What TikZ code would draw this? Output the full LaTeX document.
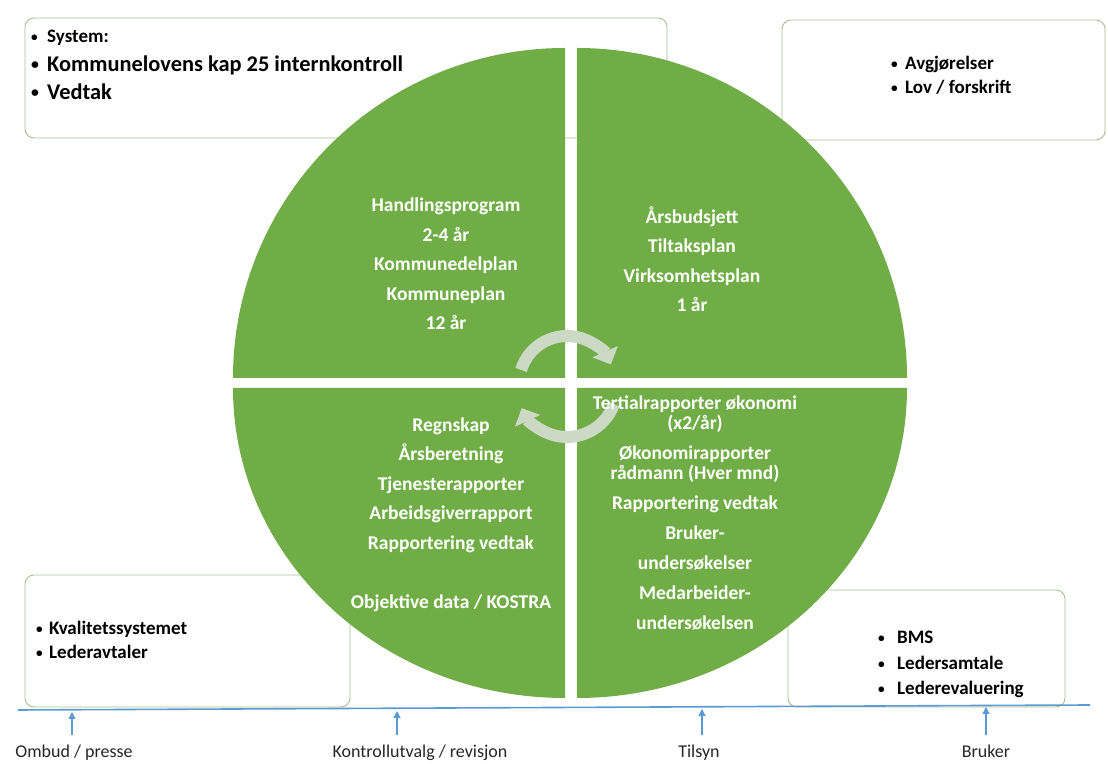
\documentclass[tikz,border=0pt]{standalone}
\usepackage{fontspec}
\usepackage{graphicx}
\setmainfont{Carlito}
\usetikzlibrary{arrows.meta}
\definecolor{qgreen}{HTML}{70AD47}
\definecolor{boxline}{HTML}{A9BF8E}
\definecolor{axisblue}{HTML}{5B9BD5}
\definecolor{cyclegrey}{RGB}{204,217,197}
\newcommand\bul{\raisebox{0.1em}{\scalebox{0.7}{•}}}
\newcommand\bitem[2]{\makebox[#1][l]{\bul}#2}
\tikzset{
  infobox/.style={draw=boxline, line width=0.9bp, rounded corners=9bp, fill=white},
  quad/.style={fill=qgreen, draw=none},
  qtext/.style={text=white, align=center, font=\bfseries\fontsize{19.5bp}{29.5bp}\selectfont, inner sep=0pt},
  btext/.style={anchor=base west, inner sep=0pt, font=\bfseries\fontsize{19bp}{22bp}\selectfont},
  bigtext/.style={anchor=base west, inner sep=0pt, font=\bfseries\fontsize{22.4bp}{26bp}\selectfont},
  axislabel/.style={anchor=base, inner sep=0pt, font=\fontsize{18bp}{21bp}\selectfont, text=black!85},
  uparrow/.style={draw=axisblue, line width=1.3bp, -{Triangle[width=7bp,length=7bp]}},
  cyclearrow/.style={draw=cyclegrey, line width=12bp, -{Triangle[width=27bp,length=14bp]}}
}
\begin{document}
\begin{tikzpicture}[x=1bp,y=1bp]
\useasboundingbox[fill=white] (0,0) rectangle (1108,764);

% boxes (behind the circle)
\draw[infobox] (25,626) rectangle (667,746);
\draw[infobox] (782,624) rectangle (1105,744);
\draw[infobox] (25,57) rectangle (350,189);
\draw[infobox] (788,57) rectangle (1065,174);

% quadrants
\fill[quad] (565,386) -- (233,386) arc[start angle=180, end angle=90, x radius=332, y radius=330] -- cycle;
\fill[quad] (577,386) -- (577,716) arc[start angle=90, end angle=0, x radius=330, y radius=330] -- cycle;
\fill[quad] (565,376) -- (233,376) arc[start angle=180, end angle=270, x radius=332, y radius=310] -- cycle;
\fill[quad] (577,376) -- (907,376) arc[start angle=0, end angle=-90, x radius=330, y radius=310] -- cycle;

% cycle arrows
\draw[cyclearrow] (567,380) ++(163:48) arc[start angle=163, end angle=24, radius=48];
\draw[cyclearrow] (567,377) ++(-20:50) arc[start angle=-20, end angle=-155, radius=50];

% quadrant texts
\node[qtext] (tl) at (446,500) {Handlingsprogram\\2-4 år\\Kommunedelplan\\Kommuneplan\\12 år};
\node[qtext] (tr) at (692,505) {Årsbudsjett\\Tiltaksplan\\Virksomhetsplan\\1 år};
\node[qtext] (bl) at (451,249.5) {Regnskap\\Årsberetning\\Tjenesterapporter\\Arbeidsgiverrapport\\Rapportering vedtak\\[29.5bp]Objektive data / KOSTRA};
\node[qtext, font=\bfseries\fontsize{19.5bp}{20bp}\selectfont] (br) at (695,251) {Tertialrapporter økonomi\\(x2/år)\\[10bp]Økonomirapporter\\rådmann (Hver mnd)\\[10bp]Rapportering vedtak\\[10bp]Bruker-\\[10bp]undersøkelser\\[10bp]Medarbeider-\\[10bp]undersøkelsen};

% box texts
\node[btext] (sys) at (31,721) {\bitem{16bp}{System:}};
\node[bigtext] (kl) at (31,692) {\bitem{16bp}{Kommunelovens kap 25 internkontroll}};
\node[bigtext] (vt) at (31,664) {\bitem{16bp}{Vedtak}};

\node[btext] (avg) at (891,694) {\bitem{14bp}{Avgjørelser}};
\node[btext] (lov) at (891,670) {\bitem{14bp}{Lov / forskrift}};

\node[btext] (kval) at (36,129) {\bitem{13bp}{Kvalitetssystemet}};
\node[btext] (lavt) at (36,105) {\bitem{13bp}{Lederavtaler}};

\node[btext] (bms) at (878,120) {\bitem{19bp}{BMS}};
\node[btext] (lsam) at (878,94) {\bitem{19bp}{Ledersamtale}};
\node[btext] (lev) at (878,69) {\bitem{19bp}{Lederevaluering}};

% axis
\coordinate (axL) at (18,54);
\coordinate (axR) at (1090,59);
\draw[axisblue, line width=1.6bp] (axL) -- (axR);

\node[axislabel] (ombud) at (74,6) {Ombud / presse};
\node[axislabel] (kontr) at (420,6) {Kontrollutvalg / revisjon};
\node[axislabel] (tils) at (699,6) {Tilsyn};
\node[axislabel] (bruk) at (986,6) {Bruker};

\coordinate (a1s) at (72,29);  \coordinate (a1e) at (72,52);
\coordinate (a2s) at (397,29); \coordinate (a2e) at (397,53);
\coordinate (a3s) at (702,29); \coordinate (a3e) at (702,55);
\coordinate (a4s) at (986,29); \coordinate (a4e) at (986,57);
\draw[uparrow] (a1s) -- (a1e);
\draw[uparrow] (a2s) -- (a2e);
\draw[uparrow] (a3s) -- (a3e);
\draw[uparrow] (a4s) -- (a4e);
\end{tikzpicture}
\end{document}
